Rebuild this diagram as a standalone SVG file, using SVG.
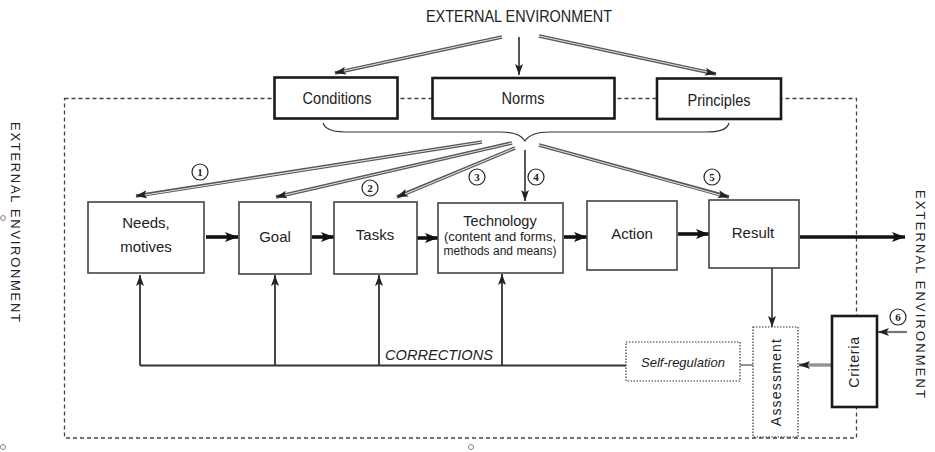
<svg xmlns="http://www.w3.org/2000/svg" width="935" height="452" viewBox="0 0 935 452">
<defs>
<style>
.box{fill:#fff;stroke:#444;stroke-width:1.6}
.tbox{fill:#fff;stroke:#1a1a1a;stroke-width:2.6}
.dbox{fill:#fff;stroke:#333;stroke-width:1.2;stroke-dasharray:1.5 1.5}
.frame{fill:none;stroke:#444;stroke-width:1.3;stroke-dasharray:4 3}
.t{font-family:"Liberation Sans",Arial,sans-serif;fill:#222;text-anchor:middle}
.n{font-family:"Liberation Sans Narrow","Liberation Sans",Arial,sans-serif;fill:#222;text-anchor:middle}
.num{font-family:"Liberation Serif","Times New Roman",serif;font-weight:bold;font-size:11px;fill:#222;text-anchor:middle}
.circ{fill:#fff;stroke:#222;stroke-width:1.2}
.dbl-o{fill:none;stroke:#555;stroke-width:3.6}
.dbl-i{fill:none;stroke:#e0e0e0;stroke-width:1.1}
.thin{fill:none;stroke:#222;stroke-width:1.5}
.thick{fill:none;stroke:#111;stroke-width:3.6}
.corr{fill:none;stroke:#333;stroke-width:1.8}
</style>
<marker id="ah" markerUnits="userSpaceOnUse" markerWidth="12" markerHeight="10" refX="11" refY="4" orient="auto">
<path d="M0,0 L11,4 L0,8 L2.5,4 z" fill="#222"/>
</marker>
<marker id="ahb" markerUnits="userSpaceOnUse" markerWidth="14" markerHeight="12" refX="13" refY="5" orient="auto">
<path d="M0,0 L13,5 L0,10 L3,5 z" fill="#111"/>
</marker>
</defs>
<rect width="935" height="452" fill="#fff"/>

<g id="frame">
<rect class="frame" x="64.5" y="98.5" width="792" height="339.5"/>
</g>

<g id="title">
<text class="n" x="519" y="22" font-size="16" textLength="186" lengthAdjust="spacingAndGlyphs">EXTERNAL ENVIRONMENT</text>
</g>
<g id="left-env">
<text class="t" font-size="13" textLength="200" lengthAdjust="spacing" transform="translate(11,222) rotate(90)">EXTERNAL ENVIRONMENT</text>
</g>
<g id="right-env">
<text class="t" font-size="13" textLength="208" lengthAdjust="spacing" transform="translate(916,294) rotate(90)">EXTERNAL ENVIRONMENT</text>
</g>

<g id="connectors">
<!-- title to top boxes -->
<path class="dbl-o" d="M502,37 L335,73" marker-end="url(#ah)"/>
<path class="dbl-i" d="M502,37 L344,71"/>
<path class="thin" d="M519,37 L519,75" marker-end="url(#ah)"/>
<path class="dbl-o" d="M539,36 L716,74" marker-end="url(#ah)"/>
<path class="dbl-i" d="M539,36 L707,72"/>
<!-- brace -->
<path fill="none" stroke="#333" stroke-width="1.2" d="M323,123 C326,131 336,132 350,132 L500,132 C515,132 522,136 525,141 C528,136 535,132 550,132 L705,132 C719,132 727,130 729,123"/>
<!-- brace to row -->
<path class="dbl-o" d="M482,142 L136,196" marker-end="url(#ah)"/>
<path class="dbl-i" d="M482,142 L145,195"/>
<path class="dbl-o" d="M512,143 L276,197" marker-end="url(#ah)"/>
<path class="dbl-i" d="M512,143 L285,195"/>
<path class="dbl-o" d="M515,148 L397,197" marker-end="url(#ah)"/>
<path class="dbl-i" d="M515,148 L405,194"/>
<path class="thin" d="M525,150 L525,201" marker-end="url(#ah)"/>
<path class="dbl-o" d="M539,145 L729,197" marker-end="url(#ah)"/>
<path class="dbl-i" d="M539,145 L720,195"/>
<!-- row arrows -->
<path class="thick" d="M206,237 L238,237" marker-end="url(#ahb)"/>
<path class="thick" d="M312,237 L334,237" marker-end="url(#ahb)"/>
<path class="thick" d="M417,238 L438,238" marker-end="url(#ahb)"/>
<path class="thick" d="M564,237 L587,237" marker-end="url(#ahb)"/>
<path class="thick" d="M678,234 L709,234" marker-end="url(#ahb)"/>
<path class="thick" d="M800,237 L905,237" marker-end="url(#ahb)"/>
<!-- corrections -->
<path class="corr" d="M626,365.5 L140,365.5"/>
<path class="corr" d="M140,365.5 L140,275" marker-end="url(#ah)"/>
<path class="corr" d="M275,365.5 L275,275" marker-end="url(#ah)"/>
<path class="corr" d="M379,365.5 L379,275" marker-end="url(#ah)"/>
<path class="corr" d="M502,365.5 L502,274" marker-end="url(#ah)"/>
<path fill="none" stroke="#666" stroke-width="1.4" d="M740,365 L753,365"/>
<!-- result to assessment -->
<path class="thin" d="M772,268 L772,327" marker-end="url(#ah)"/>
<!-- criteria to assessment -->
<path fill="none" stroke="#666" stroke-width="3" d="M831,365 L799,365" marker-end="url(#ah)"/>
<path fill="none" stroke="#ccc" stroke-width="0.9" d="M831,365 L808,365"/>
<!-- 6 -->
<path fill="none" stroke="#777" stroke-width="2.2" d="M907,332 L878,332" marker-end="url(#ah)"/>
</g>

<g id="conditions">
<rect class="tbox" x="274.5" y="77.5" width="123" height="41"/>
<text class="n" x="337" y="104" font-size="16" textLength="69" lengthAdjust="spacingAndGlyphs">Conditions</text>
</g>
<g id="norms">
<rect class="tbox" x="432.5" y="78" width="182" height="40.5"/>
<text class="n" x="523" y="104" font-size="16" textLength="43" lengthAdjust="spacingAndGlyphs">Norms</text>
</g>
<g id="principles">
<rect class="tbox" x="657" y="78.5" width="124" height="40.5"/>
<text class="n" x="719" y="106" font-size="16" textLength="63" lengthAdjust="spacingAndGlyphs">Principles</text>
</g>

<g id="needs">
<rect class="box" x="88" y="202" width="116" height="71"/>
<text class="t" x="146" y="228" font-size="15">Needs,</text>
<text class="t" x="146" y="252" font-size="15">motives</text>
</g>
<g id="goal">
<rect class="box" x="239" y="202" width="72" height="72"/>
<text class="t" x="275" y="242" font-size="15">Goal</text>
</g>
<g id="tasks">
<rect class="box" x="334" y="202" width="83" height="72"/>
<text class="t" x="375" y="240" font-size="15">Tasks</text>
</g>
<g id="technology">
<rect class="box" x="438" y="203" width="125" height="70"/>
<text class="t" x="500" y="226" font-size="14.5">Technology</text>
<text class="n" x="500" y="241" font-size="12" textLength="112" lengthAdjust="spacingAndGlyphs">(content and forms,</text>
<text class="n" x="500" y="255" font-size="12" textLength="113" lengthAdjust="spacingAndGlyphs">methods and means)</text>
</g>
<g id="action">
<rect class="box" x="587" y="201" width="90" height="69"/>
<text class="t" x="632" y="239" font-size="15">Action</text>
</g>
<g id="result">
<rect class="box" x="709" y="200" width="90" height="68"/>
<text class="t" x="753" y="238" font-size="15">Result</text>
</g>

<g id="corrections-label">
<text class="t" x="439" y="360" font-size="14" font-style="italic" textLength="108" lengthAdjust="spacingAndGlyphs">CORRECTIONS</text>
</g>
<g id="self-regulation">
<rect class="dbox" x="626" y="342" width="114" height="39"/>
<text class="t" x="683" y="367" font-size="13" font-style="italic">Self-regulation</text>
</g>
<g id="assessment">
<rect class="dbox" x="753" y="327" width="45" height="110"/>
<text class="t" font-size="14" letter-spacing="1.2" transform="translate(781,382) rotate(-90)">Assessment</text>
</g>
<g id="criteria">
<rect class="tbox" x="832" y="316" width="45" height="91"/>
<text class="t" font-size="14" letter-spacing="0.8" transform="translate(859,362) rotate(-90)">Criteria</text>
</g>

<g id="markers-num">
<circle class="circ" cx="200" cy="172" r="8"/><text class="num" x="200" y="176">1</text>
<circle class="circ" cx="370" cy="188" r="8"/><text class="num" x="370" y="192">2</text>
<circle class="circ" cx="477" cy="177" r="8"/><text class="num" x="477" y="181">3</text>
<circle class="circ" cx="536" cy="177" r="8"/><text class="num" x="536" y="181">4</text>
<circle class="circ" cx="712" cy="177" r="8"/><text class="num" x="712" y="181">5</text>
<circle class="circ" cx="898" cy="317" r="8"/><text class="num" x="898" y="321">6</text>
</g>

<g id="specks" fill="none" stroke="#888" stroke-width="1">
<circle cx="3" cy="218" r="2.5"/>
<circle cx="3" cy="447" r="2.5"/>
<circle cx="471" cy="447" r="2.5"/>
</g>
</svg>
